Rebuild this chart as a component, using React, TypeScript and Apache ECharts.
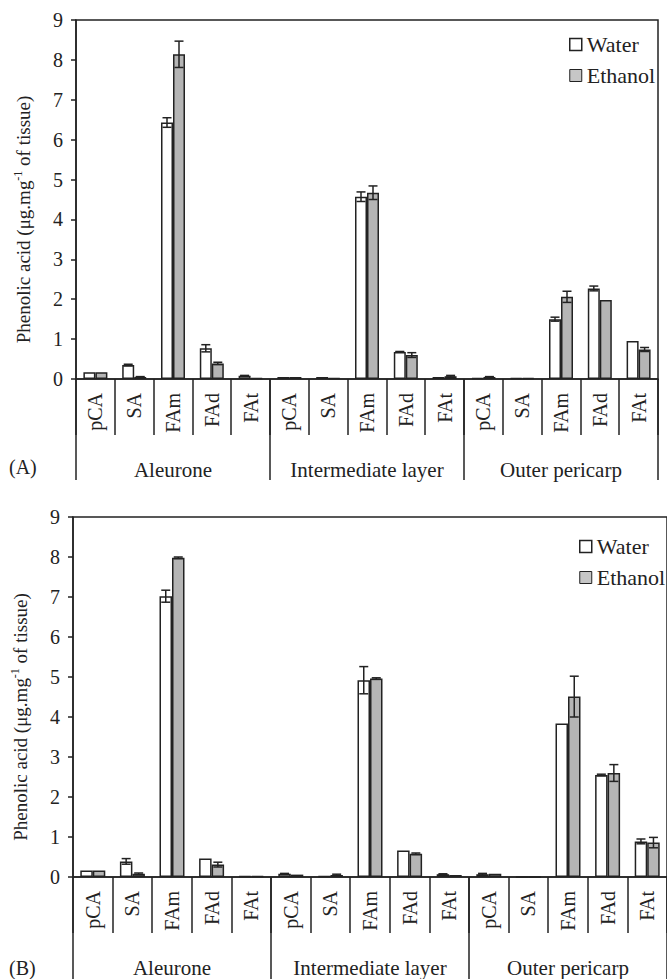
import React, { useEffect, useRef } from "react";
import * as echarts from "echarts";

const subCategories = ["pCA", "SA", "FAm", "FAd", "FAt", "pCA", "SA", "FAm", "FAd", "FAt", "pCA", "SA", "FAm", "FAd", "FAt"];
const groups = ["Aleurone", "Intermediate layer", "Outer pericarp"];
const yTicks = [0, 1, 2, 3, 4, 5, 6, 7, 8, 9];

const topWater = [0.17, 0.35, 6.43, 0.77, 0.08, 0.05, 0.05, 4.57, 0.68, 0.05, 0.03, 0.02, 1.5, 2.27, 0.95];
const topEthanol = [0.17, 0.05, 8.14, 0.39, 0.02, 0.05, 0.02, 4.67, 0.6, 0.07, 0.05, 0.02, 2.06, 1.98, 0.74];
const topWaterErr = [0, 0.02, 0.12, 0.09, 0.01, 0, 0, 0.12, 0.01, 0, 0, 0, 0.05, 0.06, 0];
const topEthanolErr = [0, 0.01, 0.33, 0.03, 0, 0, 0, 0.17, 0.06, 0.02, 0.01, 0, 0.14, 0, 0.05];

const bottomWater = [0.16, 0.39, 7.02, 0.46, 0.02, 0.08, 0.02, 4.92, 0.66, 0.07, 0.07, 0, 3.84, 2.55, 0.89];
const bottomEthanol = [0.16, 0.08, 7.98, 0.31, 0.02, 0.06, 0.05, 4.96, 0.58, 0.05, 0.08, 0, 4.51, 2.6, 0.86];
const bottomWaterErr = [0, 0.07, 0.15, 0, 0, 0.01, 0, 0.34, 0, 0.01, 0.02, 0, 0, 0.02, 0.06];
const bottomEthanolErr = [0, 0.02, 0.02, 0.06, 0, 0, 0.02, 0.02, 0.02, 0, 0, 0, 0.51, 0.21, 0.13];

const FONT = "'Liberation Serif', 'Times New Roman', 'DejaVu Serif', serif";
const INK = "#222";
const GRAY = "#b5b5b5";

function errData(vals: number[], errs: number[], side: number) {
  const out: number[][] = [];
  vals.forEach((v, i) => {
    if (errs[i] > 0) out.push([i, v, errs[i], side]);
  });
  return out;
}

function makeErr(bw: number, xi: number, yi: number, data: number[][]) {
  return {
    type: "custom",
    xAxisIndex: xi,
    yAxisIndex: yi,
    z: 5,
    silent: true,
    encode: { x: 0, y: 1 },
    data,
    renderItem: (params: any, api: any) => {
      const x = api.value(0);
      const v = api.value(1);
      const e = api.value(2);
      const side = api.value(3);
      const t = api.coord([x, v + e]);
      const b = api.coord([x, Math.max(0, v - e)]);
      const cx = t[0] + (side * bw) / 2;
      const cap = 4.5;
      const st = { stroke: INK, lineWidth: 1.5 };
      return {
        type: "group",
        children: [
          { type: "line", shape: { x1: cx, y1: t[1], x2: cx, y2: b[1] }, style: st },
          { type: "line", shape: { x1: cx - cap, y1: t[1], x2: cx + cap, y2: t[1] }, style: st },
          { type: "line", shape: { x1: cx - cap, y1: b[1], x2: cx + cap, y2: b[1] }, style: st },
        ],
      };
    },
  };
}

function catAxis(gi: number) {
  return {
    type: "category",
    gridIndex: gi,
    data: subCategories,
    position: "bottom",
    axisLine: { show: true, lineStyle: { color: INK, width: 1.5 } },
    axisTick: { show: true, interval: 0, length: 56, lineStyle: { color: INK, width: 1.5 } },
    axisLabel: { interval: 0, rotate: 90, margin: 14, fontFamily: FONT, fontSize: 20, color: INK },
  };
}

function groupAxis(gi: number, len: number) {
  return {
    type: "category",
    gridIndex: gi,
    data: groups,
    position: "bottom",
    axisLine: { show: false },
    axisTick: { show: true, interval: 0, length: len, lineStyle: { color: INK, width: 1.5 } },
    axisLabel: { interval: 0, margin: 80, fontFamily: FONT, fontSize: 21, color: INK },
  };
}

function valAxis(gi: number) {
  return {
    type: "value",
    gridIndex: gi,
    min: yTicks[0],
    max: yTicks[yTicks.length - 1],
    interval: 1,
    splitLine: { show: false },
    axisLine: { show: true, lineStyle: { color: INK, width: 1.5 } },
    axisTick: { show: true, length: 5, lineStyle: { color: INK, width: 1.5 } },
    axisLabel: { margin: 13, fontFamily: FONT, fontSize: 20, color: INK },
    name: "Phenolic acid (μg.mg{sup|-1} of tissue)",
    nameLocation: "middle",
    nameRotate: 90,
    nameGap: 42,
    nameTextStyle: {
      fontFamily: FONT,
      fontSize: 19,
      color: INK,
      padding: [0, 40, 0, 0],
      rich: {
        sup: { fontFamily: FONT, fontSize: 12, color: INK, verticalAlign: "top", padding: [0, 0, 10, 0] },
      },
    },
  };
}

function bars(name: string, color: string, xi: number, yi: number, data: number[], bw: number) {
  return {
    type: "bar",
    name,
    xAxisIndex: xi,
    yAxisIndex: yi,
    data,
    barWidth: bw,
    barGap: "0%",
    itemStyle: { color, borderColor: INK, borderWidth: 1.5 },
  };
}

function legend(left: number, top: number) {
  return {
    orient: "vertical",
    left,
    top,
    icon: "rect",
    itemWidth: 12,
    itemHeight: 12,
    itemGap: 8,
    selectedMode: false,
    textStyle: { fontFamily: FONT, fontSize: 22, color: INK, lineHeight: 23 },
    data: [
      { name: "Water", itemStyle: { color: "#fff", borderColor: INK, borderWidth: 1.5 } },
      { name: "Ethanol", itemStyle: { color: "#c6c6c6", borderColor: INK, borderWidth: 1 } },
    ],
  };
}

export default function App() {
  const ref = useRef<HTMLDivElement>(null);
  useEffect(() => {
    if (!ref.current) return;
    const chart = echarts.init(ref.current, null, { renderer: "svg" });
    const bwTop = 12;
    const bwBot = 12.5;
    chart.setOption({
      animation: false,
      backgroundColor: "#fff",
      textStyle: { fontFamily: FONT },
      grid: [
        { left: 76, top: 20, width: 582, height: 359, show: true, borderColor: INK, borderWidth: 1.5, backgroundColor: "transparent" },
        { left: 73, top: 517, width: 597, height: 360, show: true, borderColor: INK, borderWidth: 1.5, backgroundColor: "transparent" },
      ],
      legend: [legend(564, 28), legend(574, 530)],
      xAxis: [catAxis(0), groupAxis(0, 101), catAxis(1), groupAxis(1, 104)],
      yAxis: [valAxis(0), valAxis(1)],
      graphic: [
        { type: "text", left: 9, top: 457, style: { text: "(A)", fontFamily: FONT, fontSize: 20, fill: INK } },
        { type: "text", left: 9, top: 958, style: { text: "(B)", fontFamily: FONT, fontSize: 20, fill: INK } },
      ],
      series: [
        bars("Water", "#fff", 0, 0, topWater, bwTop),
        bars("Ethanol", GRAY, 0, 0, topEthanol, bwTop),
        makeErr(bwTop, 0, 0, errData(topWater, topWaterErr, -1)),
        makeErr(bwTop, 0, 0, errData(topEthanol, topEthanolErr, 1)),
        bars("Water", "#fff", 2, 1, bottomWater, bwBot),
        bars("Ethanol", GRAY, 2, 1, bottomEthanol, bwBot),
        makeErr(bwBot, 2, 1, errData(bottomWater, bottomWaterErr, -1)),
        makeErr(bwBot, 2, 1, errData(bottomEthanol, bottomEthanolErr, 1)),
      ],
    });
    return () => chart.dispose();
  }, []);
  return (
    <div
      ref={ref}
      style={{ position: "fixed", left: 0, top: 0, width: 667, height: 979, background: "#fff" }}
    />
  );
}
